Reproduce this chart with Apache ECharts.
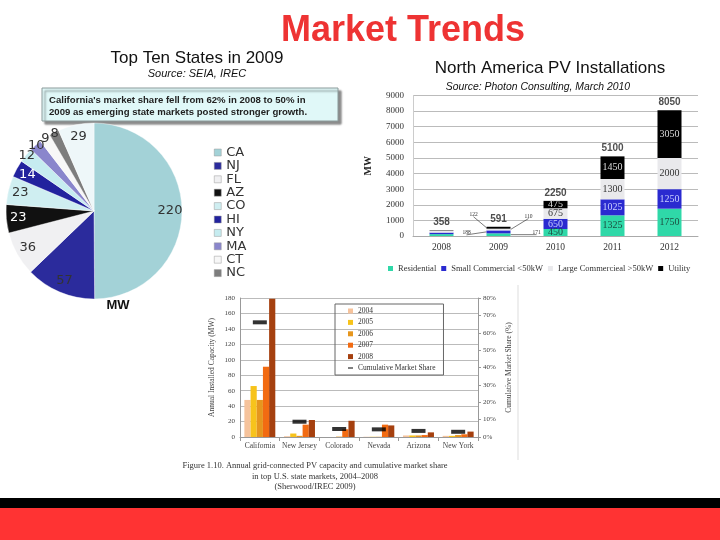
<!DOCTYPE html>
<html><head><meta charset="utf-8">
<script src="https://cdn.jsdelivr.net/npm/echarts@6/dist/echarts.min.js"></script>
<style>html,body{margin:0;padding:0;background:#fff}#c{width:720px;height:540px}</style>
</head><body><div id="c"></div>
<script>
// ---- Pie: Top ten states 2009 (MW)
const pieStates = ['CA','NJ','FL','AZ','CO','HI','NY','MA','CT','NC','Other'];
const pieValues = [220,57,36,23,23,14,12,10,9,8,29];
// ---- North America PV installations (MW)
const naYears = ['2008','2009','2010','2011','2012'];
const residential = [120,171,450,1325,1750];
const smallCommercial = [100,188,650,1025,1250];
const largeCommercial = [110,110,675,1300,2000];
const utility = [28,122,475,1450,3050];
const naTotals = [358,591,2250,5100,8050];
const naSeriesNames = ['Residential','Small Commercial <50kW','Large Commercieal >50kW','Utility'];
// ---- State markets 2004-2008
const stateMarkets = ['California','New Jersey','Colorado','Nevada','Arizona','New York'];
const capYears = ['2004','2005','2006','2007','2008'];
const cap2004 = [48,1,0,0.3,2,1.5];
const cap2005 = [66,4.5,0,0.3,2,1.5];
const cap2006 = [48,1.5,0.5,0.3,2,2.5];
const cap2007 = [91,16,10,16,2.5,3.5];
const cap2008 = [179,22,21,15,6,7];
const marketShare = [66,8.8,4.6,4.4,3.5,3];

// styles (kept apart from data)
const pieColors = ['#a3d2d7','#2b2b9c','#f0f0f2','#111111','#cfeef1','#22229e','#c6ecf0','#8a86cc','#f7f7f7','#7d7d7d','#eef7f9'];
const pieLabelColors = ['#333','#333','#333','#fff','#333','#fff','#333','#333','#333','#333','#333'];
const naColors = ['#2fd8a8','#2a2ad0','#e9e9ec','#000000'];
const naLabelColors = ['#1d4d40','#c9cfff','#333','#dddddd'];
const capColors = ['#f6c39c','#f7c31b','#e6961e','#f26b12','#a5400f'];
const capValues = [cap2004,cap2005,cap2006,cap2007,cap2008];
const naValues = [residential,smallCommercial,largeCommercial,utility];

const SERIF = 'Liberation Serif';
const SANS = 'Liberation Sans';
const chart = echarts.init(document.getElementById('c'), null, {renderer:'canvas'});

const series = [];
series.push({
  type:'pie', center:[94,211], radius:[0,88], startAngle:90, clockwise:true, silent:true, avoidLabelOverlap:false,
  label:{show:false}, labelLine:{show:false},
  itemStyle:{borderColor:'rgba(255,255,255,0.7)', borderWidth:0.6},
  data: pieStates.map((n,i)=>({name:n, value:pieValues[i], itemStyle:{color:pieColors[i]}}))
});
// label rings: larger slices labelled nearer the middle, thin slices near the rim
function labelRing(r0, r1, pick){
  return {
    type:'pie', center:[94,211], radius:[r0,r1], startAngle:90, clockwise:true, silent:true, avoidLabelOverlap:false,
    labelLayout:{hideOverlap:false},
    itemStyle:{color:'rgba(0,0,0,0)'}, labelLine:{show:false},
    label:{show:true, position:'inside', fontFamily:'DejaVu Sans', fontSize:13, formatter:'{c}'},
    data: pieStates.map((n,i)=>({name:n, value:pieValues[i], label:{show:pick(pieValues[i]), color:pieLabelColors[i]}}))
  };
}
series.push(labelRing(58,88, v=>v>=14));
series.push(labelRing(78,90, v=>v<14));
naValues.forEach((vals,k)=>{
  series.push({
    type:'bar', name:naSeriesNames[k], stack:'na', xAxisIndex:0, yAxisIndex:0, barWidth:24,
    itemStyle:{color:naColors[k]}, silent:true,
    label:{show:true, position:'inside', fontFamily:SERIF, fontSize:10, color:naLabelColors[k],
      formatter:p=> p.dataIndex<2 ? '' : String(p.value)},
    data: vals
  });
});
series.push({
  type:'scatter', xAxisIndex:0, yAxisIndex:0, symbolSize:0, silent:true,
  label:{show:true, position:'top', distance:3, fontFamily:SANS, fontWeight:'bold', fontSize:10, color:'#222'},
  data: naTotals
});
capValues.forEach((vals,k)=>{
  series.push({
    type:'bar', name:capYears[k], xAxisIndex:1, yAxisIndex:1, barGap:'0%', barCategoryGap:'22%',
    itemStyle:{color:capColors[k]}, silent:true, data: vals
  });
});
series.push({
  type:'scatter', name:'Cumulative Market Share', xAxisIndex:1, yAxisIndex:2, symbol:'rect',
  symbolSize:[14,4], itemStyle:{color:'#000'}, silent:true, data: marketShare
});

chart.setOption({
  animation:false,
  legend:[
    {data: pieStates.slice(0,10).map((n,i)=>({name:n, itemStyle:{color:pieColors[i], borderColor:'#999', borderWidth:0.5}})),
     orient:'vertical', left:209, top:141, icon:'rect', itemWidth:7, itemHeight:7, itemGap:0.4, selectedMode:false,
     textStyle:{fontFamily:'DejaVu Sans', fontSize:13, color:'#333', lineHeight:13}},
    {data: naSeriesNames, left:383, top:259, icon:'rect', itemWidth:5, itemHeight:5, itemGap:5, selectedMode:false,
     textStyle:{fontFamily:SERIF, fontSize:8.5, color:'#333'}},
    {data: capYears.concat([{name:'Cumulative Market Share', icon:'path://M0,4h12v3H0z'}]),
     orient:'vertical', left:335, top:304, icon:'rect', itemWidth:5, itemHeight:5, itemGap:3.4, selectedMode:false,
     borderColor:'#666', borderWidth:1, padding:[3,8,3,13],
     textStyle:{fontFamily:SERIF, fontSize:7.5, color:'#333', lineHeight:8}}
  ],
  grid:[
    {left:413, width:285, top:95.5, height:140.5},
    {left:240, width:238, top:298, height:139}
  ],
  xAxis:[
    {type:'category', gridIndex:0, data:naYears, axisTick:{show:false}, axisLine:{lineStyle:{color:'#aaa'}},
     axisLabel:{fontFamily:SERIF, fontSize:9.5, color:'#333', margin:6}},
    {type:'category', gridIndex:1, data:stateMarkets, axisTick:{show:true, length:4, lineStyle:{color:'#999'}},
     axisLine:{lineStyle:{color:'#999'}}, axisLabel:{interval:0, fontFamily:SERIF, fontSize:7.5, color:'#444', margin:5}}
  ],
  yAxis:[
    {type:'value', gridIndex:0, min:0, max:9000, interval:1000,
     axisLine:{show:true, lineStyle:{color:'#ccc'}}, axisTick:{show:false},
     splitLine:{lineStyle:{color:'#bbb'}},
     axisLabel:{fontFamily:SERIF, fontSize:9, color:'#333', margin:9, formatter:v=>String(v)},
     name:'MW', nameLocation:'middle', nameGap:40, nameTextStyle:{fontFamily:SERIF, fontWeight:'bold', fontSize:10, color:'#222'}},
    {type:'value', gridIndex:1, min:0, max:180, interval:20, position:'left',
     axisLine:{show:true, lineStyle:{color:'#999'}}, axisTick:{show:false},
     splitLine:{lineStyle:{color:'#bbb'}},
     axisLabel:{fontFamily:SERIF, fontSize:7, color:'#444', margin:5},
     name:'Annual Installed Capacity (MW)', nameLocation:'middle', nameGap:24, nameTextStyle:{fontFamily:SERIF, fontSize:7.5, color:'#444'}},
    {type:'value', gridIndex:1, min:0, max:80, interval:10, position:'right',
     axisLine:{show:true, lineStyle:{color:'#999'}}, axisTick:{show:true, length:3, lineStyle:{color:'#999'}},
     splitLine:{show:false},
     axisLabel:{fontFamily:SERIF, fontSize:7, color:'#444', margin:5, formatter:'{value}%'},
     name:'Cumulative Market Share (%)', nameLocation:'middle', nameGap:27, nameRotate:90, nameTextStyle:{fontFamily:SERIF, fontSize:7.5, color:'#444'}}
  ],
  series: series
});

// graphics
const g = [];
function txt(x,y,t,font,color,align,extra){
  g.push({type:'text', silent:true, style:Object.assign({x:x,y:y,text:t,font:font,fill:color||'#000',textAlign:align||'center',textVerticalAlign:'middle'}, extra||{})});
}
txt(403,31,'Market Trends','bold 36px "Liberation Sans"','#ee3333');
txt(197,58,'Top Ten States in 2009','17px "Liberation Sans"','#111');
txt(197,74,'Source: SEIA, IREC','italic 11px "Liberation Sans"','#111');
txt(550,68,'North America PV Installations','17px "Liberation Sans"','#111');
txt(538,87,'Source: Photon Consulting, March 2010','italic 10.4px "Liberation Sans"','#111');
g.push({type:'rect', silent:true, shape:{x:42,y:88,width:296,height:33},
  style:{fill:'#e0f8f8', stroke:'#8a9a9a', lineWidth:1, shadowBlur:2, shadowOffsetX:3, shadowOffsetY:3, shadowColor:'rgba(0,0,0,0.45)'}});
txt(49,100,"California's market share fell from 62% in 2008 to 50% in",'bold 9.6px "Liberation Sans"','#222','left');
txt(49,112,'2009 as emerging state markets posted stronger growth.','bold 9.6px "Liberation Sans"','#222','left');
txt(118,305,'MW','bold 13px "Liberation Sans"','#111');
txt(315,466,'Figure 1.10. Annual grid-connected PV capacity and cumulative market share','8.5px "Liberation Serif"','#333');
txt(315,477,'in top U.S. state markets, 2004\u20132008','8.5px "Liberation Serif"','#333');
txt(315,487,'(Sherwood/IREC 2009)','8.5px "Liberation Serif"','#333');
g.push({type:'line', silent:true, shape:{x1:518,y1:285,x2:518,y2:460}, style:{stroke:'#ddd', lineWidth:1}});
g.push({type:'rect', silent:true, shape:{x:0,y:498,width:720,height:10}, style:{fill:'#000'}});
g.push({type:'rect', silent:true, shape:{x:0,y:508,width:720,height:32}, style:{fill:'#ff3333'}});

// 2009 callouts, positioned through the chart's scales
const i9 = 1;
let cum = 0;
const mids = naValues.map(v=>{ const m = cum + v[i9]/2; cum += v[i9]; return m; });
const px = v => chart.convertToPixel({gridIndex:0}, [naYears[i9], v]);
const callouts = [
  {k:3, side:-1, dx:-21, dy:-13},
  {k:1, side:-1, dx:-28, dy:1},
  {k:2, side:1, dx:26, dy:-13},
  {k:0, side:1, dx:34, dy:-2}
];
callouts.forEach(c=>{
  const p = px(mids[c.k]);
  const ex = p[0] + c.side*12;
  const tx = p[0] + c.dx, ty = p[1] + c.dy;
  g.push({type:'line', silent:true, shape:{x1:ex, y1:p[1], x2:tx - c.side*(-4), y2:ty+2}, style:{stroke:'#222', lineWidth:0.6}});
  txt(tx + c.side*4, ty, String(naValues[c.k][i9]), '5.5px "Liberation Serif"', '#333');
});
chart.setOption({graphic: g});
</script></body></html>
